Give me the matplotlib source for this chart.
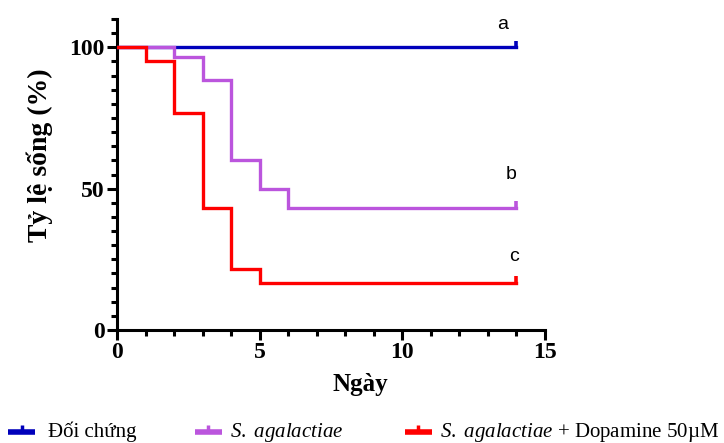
import matplotlib
matplotlib.use("Agg")
import matplotlib.pyplot as plt
from matplotlib.lines import Line2D
from matplotlib.ticker import MultipleLocator

plt.rcParams['font.family'] = ['Liberation Serif', 'DejaVu Serif']
plt.rcParams['mathtext.fontset'] = 'custom'
plt.rcParams['mathtext.rm'] = 'Liberation Serif'
plt.rcParams['mathtext.it'] = 'Liberation Serif:italic'

# Data (Kaplan-Meier steps)
days = [0, 1, 2, 3, 4, 5, 6, 14]
control = [100, 100, 100, 100, 100, 100, 100, 100]
strep = [100, 100, 96.7, 88.3, 60, 50, 43.3, 43.3]
strep_dopa = [100, 95, 76.7, 43.3, 21.7, 16.7, 16.7, 16.7]

labels = ["Đối chứng", r"$\it{S.\ agalactiae}$",
          r"$\it{S.\ agalactiae}$ + Dopamine 50µM"]
colors = ["#0000BB", "#BB55DD", "#FF0000"]
letters = ["a", "b", "c"]
letter_pos = [(13.5, 108), (13.8, 55), (13.9, 26)]

W, H = 724, 443
fig = plt.figure(figsize=(7.24, 4.43), dpi=100)
ax = fig.add_axes([117 / W, 1 - 330 / H, 428 / W, 311 / H])

series = [control, strep, strep_dopa]
for ys, c in zip(series, colors):
    ax.step(days, ys, where='post', color=c, lw=2.4, solid_joinstyle='miter', zorder=3)
    ax.plot([days[-1]], [ys[-1] + 1.2], marker='|', markersize=5, mew=2.6, color=c, zorder=4)

for t, (x, y) in zip(letters, letter_pos):
    ax.text(x, y, t, fontsize=14, family='Liberation Sans', ha='center', va='center')

ax.set_xlim(0, 15)
ax.set_ylim(0, 110)
ax.set_xticks([0, 5, 10, 15])
ax.set_yticks([0, 50, 100])
ax.xaxis.set_minor_locator(MultipleLocator(1))
ax.yaxis.set_minor_locator(MultipleLocator(5))
for s in ['top', 'right']:
    ax.spines[s].set_visible(False)
for s in ['left', 'bottom']:
    ax.spines[s].set_linewidth(2.2)
ax.tick_params(which='major', length=7, width=2.2, labelsize=17, pad=2)
ax.tick_params(which='minor', length=4, width=2.2)
for lab in ax.get_xticklabels() + ax.get_yticklabels():
    lab.set_fontweight('bold')

ax.set_xlabel("Ngày", fontsize=18, fontweight='bold')
ax.set_ylabel("Tỷ lệ sống (%)", fontsize=20, fontweight='bold')
ax.xaxis.set_label_coords((360 - 117) / 428, -(385 - 330) / 311)
ax.yaxis.set_label_coords((40 - 117) / 428, (330 - 155) / 311)
ax.xaxis.label.set_va('center')
ax.yaxis.label.set_va('center')

# Legend drawn manually along the bottom
handle_x = [8, 195, 405]
text_x = [48, 230, 440]
ly = 1 - 432 / H
for hx, tx, c, lab in zip(handle_x, text_x, colors, labels):
    fig.add_artist(Line2D([hx / W, (hx + 27) / W], [ly, ly], color=c, lw=4,
                          transform=fig.transFigure, solid_capstyle='butt'))
    fig.add_artist(Line2D([(hx + 13.5) / W] * 2, [ly, ly + 7 / H], color=c, lw=2.5,
                          transform=fig.transFigure, solid_capstyle='butt'))
    fig.text(tx / W, ly, lab, fontsize=15, ha='left', va='center')

fig.savefig("out.png", dpi=100)
